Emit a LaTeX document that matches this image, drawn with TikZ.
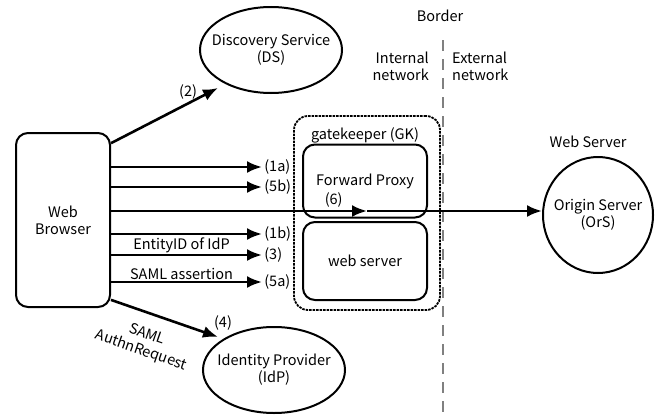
\documentclass[tikz,border=0pt]{standalone}
\usepackage{fontspec}
\setmainfont{Noto Sans CJK JP}
\usetikzlibrary{shapes.geometric,arrows.meta}
\tikzset{
    every node/.style={inner sep=1pt, font=\fontsize{14.5}{17}\selectfont},
    box/.style={draw, rounded corners=12pt, line width=2pt, align=center},
    oval/.style={draw, ellipse, line width=2pt, align=center, inner xsep=-20pt, inner ysep=0pt},
    gkbox/.style={draw, rounded corners=14pt, line width=1.8pt, dash pattern=on 2.5pt off 1pt},
    flow/.style={line width=2.6pt, -{Latex[length=15pt,width=12pt]}},
    border/.style={draw=gray, line width=1.8pt, dash pattern=on 11pt off 8pt}
}

\begin{document}
\begin{tikzpicture}[x=1pt, y=-1pt]
    \useasboundingbox (0,0) rectangle (661,415);

    % gatekeeper
    \node (gk) [gkbox, minimum width=146pt, minimum height=194pt] at (367,213) {};
    \node (gklabel) at (365,135) {gatekeeper (GK)};
    \node (proxy) [box, minimum width=124pt, minimum height=73pt] at (365,181) {Forward Proxy};
    \node (websrv) [box, minimum width=124pt, minimum height=78pt] at (365,261) {web server};

    \node (wb) [box, minimum width=94pt, minimum height=174pt] at (63,220) {Web\\Browser};
    \node (ds) [oval, minimum width=142pt, minimum height=86pt] at (271,50) {Discovery Service\\(DS)};
    \node (idp) [oval, minimum width=142pt, minimum height=86pt] at (274,370) {Identity Provider\\(IdP)};
    \node (ors) [oval, minimum width=110pt, minimum height=116pt] at (598,215) {Origin Server\\(OrS)};
    \node (wslabel) at (588,142) {Web Server};

    % border
    \node (bd) at (440,16) {Border};
    \node (intnet) [anchor=east, align=right] at (430,66) {Internal\\network};
    \node (extnet) [anchor=west, align=left] at (451,66) {External\\network};
    \coordinate (bt) at (443,40);
    \coordinate (bb) at (443,415);
    \draw[border] (bt) -- (bb);

    \coordinate (t2) at (218,88);
    \coordinate (t4) at (218,337);
    \coordinate (a1a) at (262,167);
    \coordinate (a5b) at (262,187);
    \coordinate (m6) at (367,211);
    \coordinate (a1b) at (262,234);
    \coordinate (a3) at (262,255);
    \coordinate (a5a) at (262,282);

    \draw[flow] (wb.58) -- (t2) node[pos=0.72, above=2pt] {(2)};
    \draw[flow] (wb.east |- a1a) -- (a1a) node[right] {(1a)};
    \draw[flow] (wb.east |- a5b) -- (a5b) node[right] {(5b)};
    \draw[flow] (wb.east |- m6) -- (m6) node[pos=0.87, above=1pt] {(6)};
    \draw[flow] (m6) -- (ors.west |- m6);
    \draw[flow] (wb.east |- a1b) -- (a1b) node[right] {(1b)};
    \draw[flow] (wb.east |- a3) -- (a3) node[right] {(3)}
        node[midway, above=0pt, xshift=-5pt] {EntityID of IdP};
    \draw[flow] (wb.east |- a5a) -- (a5a) node[right] {(5a)}
        node[midway, above=0pt, xshift=-5pt] {SAML assertion};
    \draw[flow] (wb.-59) -- (t4) node[above, xshift=5pt, yshift=4pt] {(4)}
        node[pos=0.4, below=12pt, sloped, align=center] {SAML\\AuthnRequest};
\end{tikzpicture}
\end{document}
